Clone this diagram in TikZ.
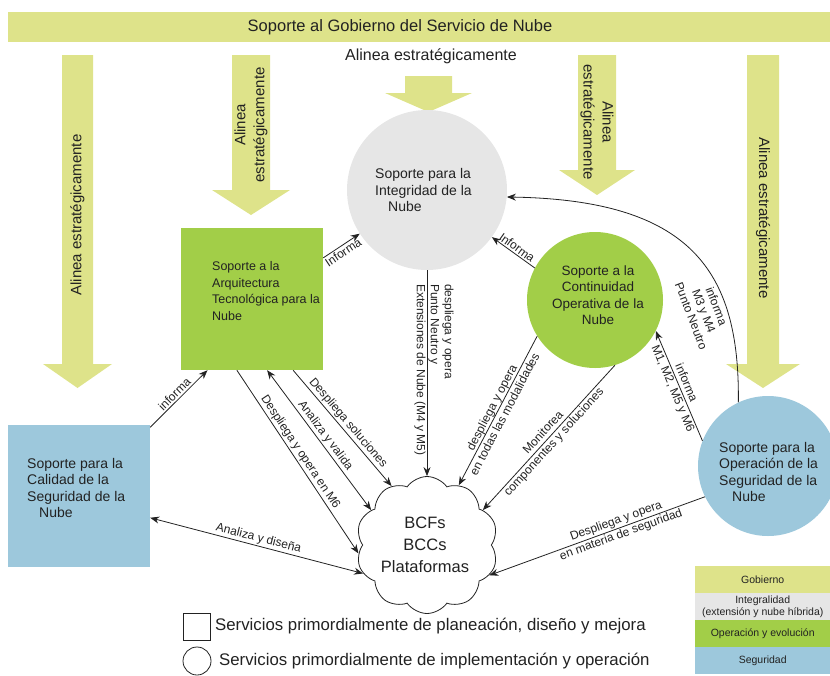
\documentclass[tikz,border=0pt]{standalone}
\usepackage{fontspec}
\setmainfont{Liberation Sans}
\usetikzlibrary{arrows.meta,shapes.symbols}

\definecolor{gob}{HTML}{DEE38A}
\definecolor{integ}{HTML}{E6E6E6}
\definecolor{oper}{HTML}{A2CE48}
\definecolor{segu}{HTML}{9DC8DC}
\definecolor{ink}{HTML}{222222}

\begin{document}
\begin{tikzpicture}[x=1pt,y=-1pt,
  >={Stealth[length=9pt,width=7pt]},
  conn/.style={draw=ink, line width=0.8pt},
  elbl/.style={font=\fontsize{12}{14}\selectfont, text=ink, inner sep=1.5pt},
  dbl/.style={elbl, sloped, align=center, font=\fontsize{12}{14.5}\selectfont},
  ntxt/.style={font=\fontsize{14}{16.5}\selectfont, text=ink, inner sep=0pt},
  atxt/.style={font=\fontsize{15}{19}\selectfont, text=ink, inner sep=0pt},
  ltxt/.style={font=\fontsize{16.8}{19}\selectfont, text=ink, inner sep=0pt, anchor=west},
  ctxt/.style={font=\fontsize{10.5}{12}\selectfont, text=ink, inner sep=0pt, align=center,
    minimum width=135, minimum height=27, anchor=north west},
]
\useasboundingbox (0,0) rectangle (830,675);

% governance band
\node[fill=gob, minimum width=822, minimum height=30, inner sep=0, anchor=north west] (band) at (8,12) {};
\node[font=\fontsize{16.5}{18}\selectfont, text=ink] (bandtxt) at (400,27) {Soporte al Gobierno del Servicio de Nube};
\node[font=\fontsize{16}{18}\selectfont, text=ink] (centtxt) at (431,56) {Alinea estratégicamente};

% strategic alignment block arrows
\fill[gob] (62,55) -- (93,55) -- (93,364) -- (112,364) -- (77.5,388) -- (43,364) -- (62,364) -- cycle;
\node[atxt, rotate=90] (a1) at (77.5,215) {Alinea estratégicamente};
\fill[gob] (232,55) -- (270,55) -- (270,190) -- (290,190) -- (251,215) -- (212,190) -- (232,190) -- cycle;
\node[atxt, rotate=90, align=center] (a2) at (251,125) {Alinea\\estratégicamente};
\fill[gob] (405,76) -- (452,76) -- (452,93) -- (472,93) -- (428.5,112) -- (385,93) -- (405,93) -- cycle;
\fill[gob] (578,55) -- (616,55) -- (616,170) -- (635,170) -- (597,195) -- (559,170) -- (578,170) -- cycle;
\node[atxt, rotate=-90, align=center] (a4) at (597,122) {Alinea\\estratégicamente};
\fill[gob] (747,55) -- (779,55) -- (779,364) -- (800,364) -- (763,388) -- (726,364) -- (747,364) -- cycle;
\node[atxt, rotate=-90] (a5) at (763,218) {Alinea estratégicamente};

% services
\node[circle, fill=integ, minimum size=160, inner sep=0] (integ) at (427,190) {};
\node[ntxt, align=left, anchor=west] (integtxt) at (375,190) {Soporte para la\\Integridad de la\\\hspace*{13pt}Nube};

\node[rectangle, fill=oper, minimum size=142, inner sep=0] (arch) at (252,299) {};
\node[ntxt, align=left, anchor=west, font=\fontsize{12.5}{16.5}\selectfont] (archtxt) at (212,291) {Soporte a la\\Arquitectura\\Tecnológica para la\\Nube};

\node[circle, fill=oper, minimum size=136, inner sep=0] (cont) at (595,300) {};
\node[ntxt, align=center, font=\fontsize{13.5}{16.5}\selectfont] (conttxt) at (598,295) {Soporte a la\\Continuidad\\Operativa de la\\Nube};

\node[rectangle, fill=segu, minimum size=142, inner sep=0] (calid) at (79,496) {};
\node[ntxt, align=left, anchor=west] (calidtxt) at (27,488) {Soporte para la\\Calidad de la\\Seguridad de la\\\hspace*{12pt}Nube};

\node[circle, fill=segu, minimum size=140, inner sep=0] (opseg) at (768,466) {};
\node[ntxt, align=left, anchor=west] (opsegtxt) at (719,472) {Soporte para la\\Operación de la\\Seguridad de la\\\hspace*{13pt}Nube};

\node[cloud, draw=ink, line width=0.8pt, cloud puffs=10, cloud puff arc=110, aspect=1.05,
      minimum width=142, minimum height=137, inner sep=0] (cloud) at (427,545) {};
\node[font=\fontsize{16.5}{22}\selectfont, text=ink, align=center] (cloudtxt) at (425,545) {BCFs\\BCCs\\Plataformas};

% relations
\draw[conn,->] (arch.30.6) -- node[elbl, sloped, below, pos=0.45] (l1) {Informa} (integ.213.5);
\draw[conn,<-] (integ.-36) -- node[elbl, sloped, above, pos=0.5] (l2) {Informa} (cont.152);
\draw[conn,->] (integ.south) -- (cloud.north);
\node[elbl, rotate=-90, align=left, anchor=west, inner sep=0pt] (l3) at (434,284)
  {despliega y opera\\Punto Neutro y\\Extensiones de Nube (M4 y M5)};
\draw[conn,->] (arch.-60) -- node[elbl, sloped, above, pos=0.5] (l4) {Despliega soluciones} (cloud.121);
\draw[conn,<->] (arch.-78.4) -- node[elbl, sloped, above, pos=0.5] (l5) {Analiza y valida} (cloud.148);
\draw[conn,->] (arch.-102) -- node[elbl, sloped, above, pos=0.47] (l6) {Despliega y opera en M6} (cloud.187);
\draw[conn,->] (calid.44) -- node[elbl, sloped, above, pos=0.5] (l7) {informa} (arch.238);
\draw[conn,<->] (calid.-17) -- node[elbl, sloped, above, pos=0.5] (l8) {Analiza y diseña} (cloud.204.6);
\draw[conn,->] (cont.212) -- node[dbl, pos=0.5] (l9) {despliega y opera\\en todas las modalidades} (cloud.62.4);
\draw[conn,->] (cont.-73) -- node[dbl, pos=0.5] (l10) {Monitorea\\componentes y soluciones} (cloud.32.5);
\draw[conn,->] (opseg.159) -- node[dbl, pos=0.5] (l11) {informa\\M1, M2, M5 y M6} (cont.-27);
\draw[conn,->] (opseg.115) .. controls (740,270) and (690,200) .. (integ.-5.9);
\node[elbl, rotate=-69, align=center, font=\fontsize{12}{13.5}\selectfont] (l12) at (704,311) {informa\\M3 y M4\\Punto Neutro};
\draw[conn,->] (opseg.206) -- node[dbl, pos=0.4] (l13) {Despliega y opera\\en materia de seguridad} (cloud.-26);

% shape legend
\node[draw=ink, line width=0.8pt, minimum size=27, inner sep=0] (lsq) at (196.5,626.5) {};
\node[ltxt] (lsqtxt) at (215,626) {Servicios primordialmente de planeación, diseño y mejora};
\node[draw=ink, line width=0.8pt, circle, minimum size=28, inner sep=0] (lci) at (197,661) {};
\node[ltxt] (lcitxt) at (219,661) {Servicios primordialmente de implementación y operación};

% colour legend
\node[ctxt, fill=gob] (kg) at (695,566) {Gobierno};
\node[ctxt, fill=integ] (ki) at (695,593) {Integralidad\\(extensión y nube híbrida)};
\node[ctxt, fill=oper] (ko) at (695,620) {Operación y evolución};
\node[ctxt, fill=segu] (ks) at (695,647) {Seguridad};
\end{tikzpicture}
\end{document}
